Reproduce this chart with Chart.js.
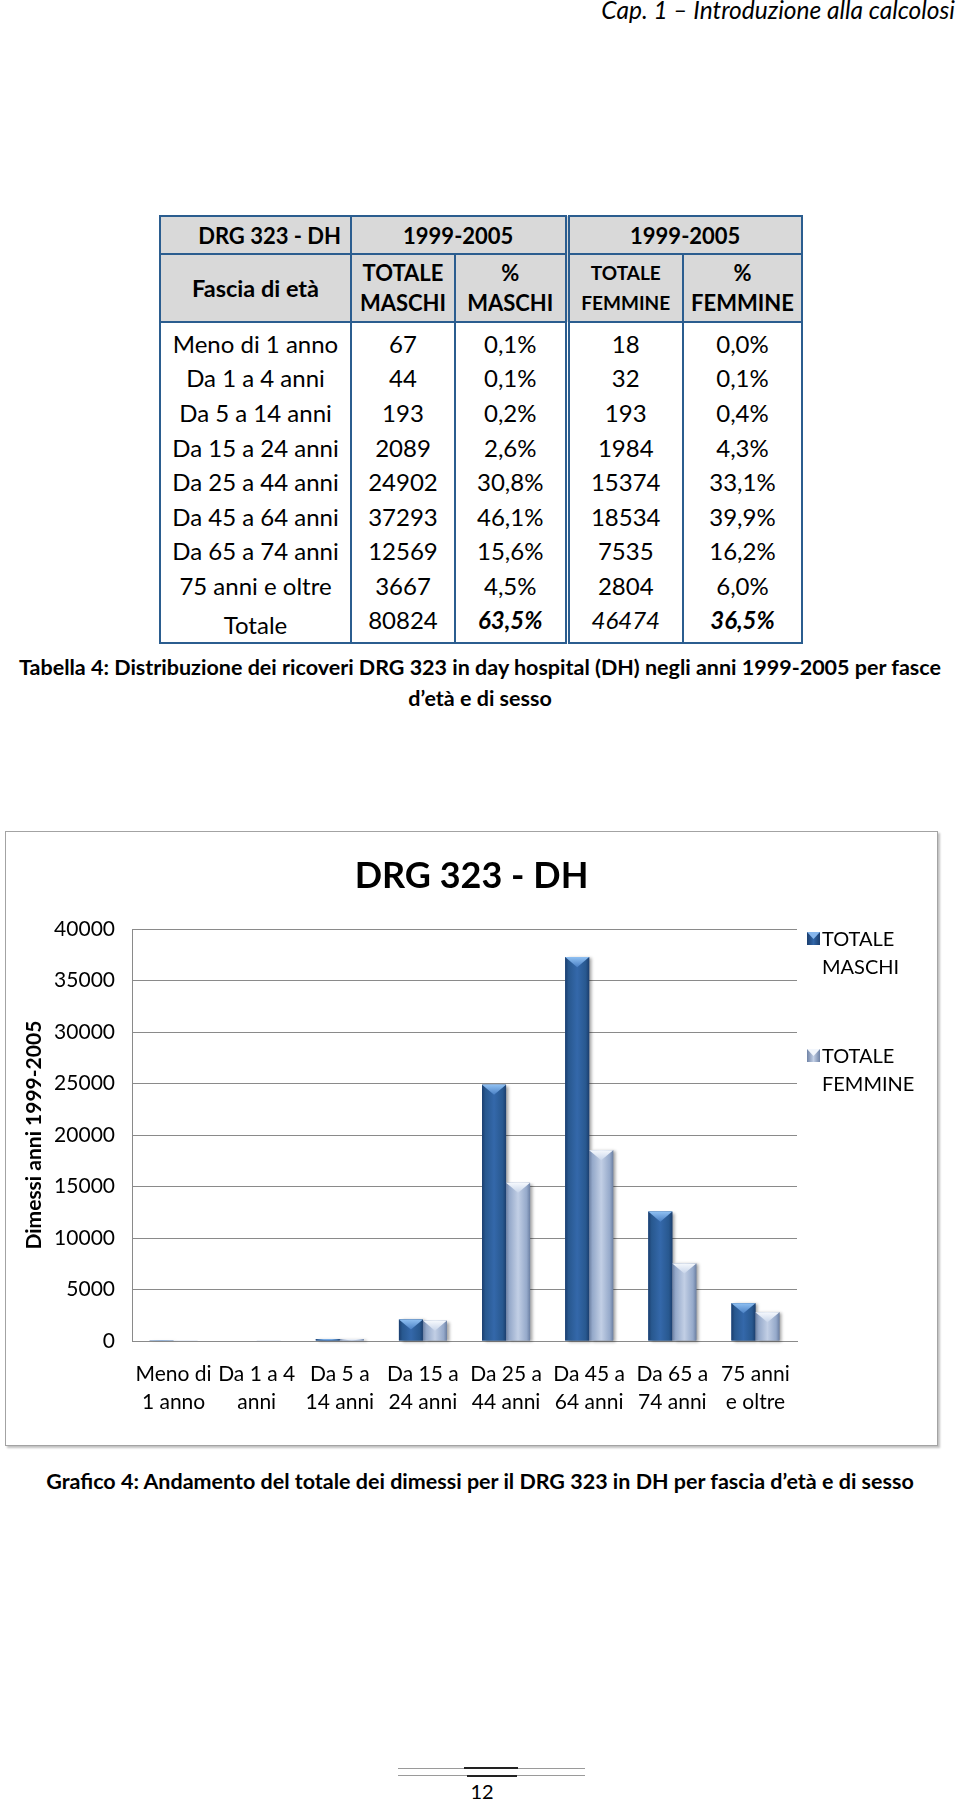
<!DOCTYPE html>
<html lang="it">
<head>
<meta charset="utf-8">
<title>DRG 323 - DH</title>
<script src="https://cdn.jsdelivr.net/npm/chart.js@4.4.1/dist/chart.umd.min.js"></script>
<style>
  html, body { margin: 0; padding: 0; background: #fff; }
  body { width: 960px; height: 1804px; position: relative; overflow: hidden; font-family: Lato, "Open Sans", sans-serif; color: #000; }
  .intestazione { position: absolute; right: 5px; top: -6px; font-size: 24.5px; font-style: italic; line-height: 32px; }
  table.dati { position: absolute; left: 159px; top: 215px; border-collapse: collapse; font-size: 24px; table-layout: fixed; }
  table.dati td { border-left: 2px solid #2b5d8f; border-right: 2px solid #2b5d8f; padding: 0; text-align: center; vertical-align: middle; white-space: nowrap; }
  table.dati td.dbl { border-left: 5px double #2b5d8f; }
  table.dati tr.h1 td, table.dati tr.h2 td { background: #d9d9d9; font-weight: bold; font-size: 22px; border-top: 2px solid #2b5d8f; border-bottom: 2px solid #2b5d8f; }
  table.dati tr.h1 { height: 38px; }
  table.dati tr.h1 td.drg { text-align: right; padding-right: 9px; }
  table.dati tr.h2 { height: 68px; }
  table.dati tr.h2 td { line-height: 30px; }
  table.dati tr.h2 td.fascia { font-size: 23.5px; }
  table.dati tr.h2 td.small { font-size: 19px; }
  table.dati tr.spazio { height: 4px; }
  table.dati tr.riga { height: 34.6px; }
  table.dati tr.tot { height: 40px; }
  table.dati tr.tot td { vertical-align: top; padding-top: 2px; border-bottom: 2px solid #2b5d8f; }
  table.dati tr.tot td.lab { vertical-align: bottom; padding-bottom: 3px; padding-top: 0; }
  .bi { font-weight: bold; font-style: italic; }
  .it { font-style: italic; }
  .didascalia { position: absolute; left: 0; width: 960px; text-align: center; font-weight: bold; font-size: 21.5px; line-height: 31px; white-space: nowrap; }
  .box { position: absolute; left: 5px; top: 831px; width: 931px; height: 613px; border: 1px solid #a3a3a3; box-shadow: 2px 2px 2px rgba(0,0,0,0.25); }
  .box canvas { position: absolute; left: 0; top: 0; }
  .leg { position: absolute; left: 822px; font-size: 20px; line-height: 28px; }
  .leg .mk { position: absolute; left: -15px; top: 8px; width: 13px; height: 13px; overflow: hidden; }
  .leg .mk i { position: absolute; left: 0; top: 0; width: 13px; height: 7px; clip-path: polygon(0 0, 100% 0, 50% 100%); }
  .mk.m { background: linear-gradient(90deg, #1b3e6e, #3166a8 50%, #1b3e6e); }
  .mk.m i { background: #86b6ec; }
  .mk.f { background: linear-gradient(90deg, #6f83a6, #c3d0e6 50%, #6f83a6); }
  .mk.f i { background: #f2f6fc; }
  .num { position: absolute; left: 460px; width: 44px; top: 1777px; text-align: center; font-size: 20px; line-height: 28px; }
</style>
</head>
<body>
<div class="intestazione">Cap. 1 – Introduzione alla calcolosi</div>

<table class="dati">
  <colgroup><col style="width:191px"><col style="width:104px"><col style="width:112px"><col style="width:116px"><col style="width:119px"></colgroup>
  <tbody id="corpo-tabella">
    <tr class="h1"><td class="drg">DRG 323 - DH</td><td colspan="2">1999-2005</td><td colspan="2" class="dbl">1999-2005</td></tr>
    <tr class="h2"><td class="fascia">Fascia di età</td><td>TOTALE<br>MASCHI</td><td>%<br>MASCHI</td><td class="dbl small">TOTALE<br>FEMMINE</td><td>%<br>FEMMINE</td></tr>
    <tr class="spazio"><td></td><td></td><td></td><td class="dbl"></td><td></td></tr>
  </tbody>
</table>

<div class="didascalia" style="top:652px">Tabella 4: Distribuzione dei ricoveri DRG 323 in day hospital (DH) negli anni 1999-2005 per fasce<br>d’età e di sesso</div>

<div class="box">
  <canvas id="grafico" width="931" height="613"></canvas>
</div>
<div class="leg" style="top:924px"><span class="mk m"><i></i></span>TOTALE<br>MASCHI</div>
<div class="leg" style="top:1041px"><span class="mk f"><i></i></span>TOTALE<br>FEMMINE</div>

<div class="didascalia" style="top:1466px">Grafico 4: Andamento del totale dei dimessi per il DRG 323 in DH per fascia d’età e di sesso</div>

<div style="position:absolute;left:398px;top:1768px;width:187px;height:1px;background:#9a9a9a"></div>
<div style="position:absolute;left:464px;top:1767px;width:54px;height:2px;background:#222"></div>
<div style="position:absolute;left:398px;top:1775px;width:187px;height:1px;background:#9a9a9a"></div>
<div style="position:absolute;left:467px;top:1775px;width:50px;height:2px;background:#222"></div>
<div class="num">12</div>

<script>
const fasceEta = ['Meno di 1 anno', 'Da 1 a 4 anni', 'Da 5 a 14 anni', 'Da 15 a 24 anni', 'Da 25 a 44 anni', 'Da 45 a 64 anni', 'Da 65 a 74 anni', '75 anni e oltre'];
const etichetteAsse = [['Meno di', '1 anno'], ['Da 1 a 4', 'anni'], ['Da 5 a', '14 anni'], ['Da 15 a', '24 anni'], ['Da 25 a', '44 anni'], ['Da 45 a', '64 anni'], ['Da 65 a', '74 anni'], ['75 anni', 'e oltre']];
const totaleMaschi = [67, 44, 193, 2089, 24902, 37293, 12569, 3667];
const percMaschi = ['0,1%', '0,1%', '0,2%', '2,6%', '30,8%', '46,1%', '15,6%', '4,5%'];
const totaleFemmine = [18, 32, 193, 1984, 15374, 18534, 7535, 2804];
const percFemmine = ['0,0%', '0,1%', '0,4%', '4,3%', '33,1%', '39,9%', '16,2%', '6,0%'];
const sommaMaschi = 80824;
const sommaPercMaschi = '63,5%';
const sommaFemmine = 46474;
const sommaPercFemmine = '36,5%';
const tickY = { min: 0, max: 40000, step: 5000 };

// righe della tabella
const corpo = document.getElementById('corpo-tabella');
fasceEta.forEach((fascia, i) => {
    const tr = document.createElement('tr');
    tr.className = 'riga';
    tr.innerHTML = `
        <td>${fascia}</td>
        <td>${totaleMaschi[i]}</td>
        <td>${percMaschi[i]}</td>
        <td class="dbl">${totaleFemmine[i]}</td>
        <td>${percFemmine[i]}</td>`;
    corpo.appendChild(tr);
});
const trTot = document.createElement('tr');
trTot.className = 'tot';
trTot.innerHTML = `
    <td class="lab">Totale</td>
    <td>${sommaMaschi}</td>
    <td class="bi">${sommaPercMaschi}</td>
    <td class="dbl it">${sommaFemmine}</td>
    <td class="bi">${sommaPercFemmine}</td>`;
corpo.appendChild(trTot);

// colori "bevel" stile Excel 2007
const palette = [
    { edge: '#1b3e6e', side: '#28588f', mid: '#3468aa', top: '#8fc0f2', tip: '#4a80c4' },
    { edge: '#6c80a3', side: '#95a9ca', mid: '#c2cfe5', top: '#f6f9fd', tip: '#c8d5ea' }
];

const bevelPlugin = {
    id: 'bevel',
    afterDatasetsDraw(chart) {
        const c = chart.ctx;
        chart.data.datasets.forEach((ds, i) => {
            const meta = chart.getDatasetMeta(i);
            const p = palette[i];
            meta.data.forEach(bar => {
                const { x, y, base, width } = bar.getProps(['x', 'y', 'base', 'width'], true);
                const l = x - width / 2, r = x + width / 2, h = base - y;
                if (h <= 0) return;
                c.save();
                c.shadowColor = 'rgba(0,0,0,0.35)';
                c.shadowOffsetX = 3;
                c.shadowOffsetY = 1;
                c.shadowBlur = 3;
                const g = c.createLinearGradient(l, 0, r, 0);
                g.addColorStop(0, p.edge);
                g.addColorStop(0.14, p.side);
                g.addColorStop(0.5, p.mid);
                g.addColorStop(0.86, p.side);
                g.addColorStop(1, p.edge);
                c.fillStyle = g;
                c.fillRect(l, y, width, h);
                c.restore();
                const th = Math.min(h, width * 0.42);
                const tg = c.createLinearGradient(0, y, 0, y + th);
                tg.addColorStop(0, p.top);
                tg.addColorStop(1, p.tip);
                c.beginPath();
                c.moveTo(l, y);
                c.lineTo(r, y);
                c.lineTo(x, y + th);
                c.closePath();
                c.fillStyle = tg;
                c.fill();
            });
        });
    }
};

const ctx = document.getElementById('grafico').getContext('2d');
new Chart(ctx, {
    type: 'bar',
    data: {
        labels: etichetteAsse,
        datasets: [
            { label: 'TOTALE MASCHI', data: totaleMaschi, backgroundColor: '#3166a8', categoryPercentage: 0.578, barPercentage: 1 },
            { label: 'TOTALE FEMMINE', data: totaleFemmine, backgroundColor: '#b4c3de', categoryPercentage: 0.578, barPercentage: 1 }
        ]
    },
    options: {
        responsive: false,
        animation: false,
        layout: { padding: 0 },
        plugins: {
            legend: { display: false },
            tooltip: { enabled: false },
            title: {
                display: true,
                text: 'DRG 323 - DH',
                color: '#000',
                font: { family: 'Lato', size: 36, weight: 'bold' },
                padding: { top: 23, bottom: 31 }
            }
        },
        scales: {
            x: {
                grid: { display: false, drawTicks: false },
                border: { display: true, color: '#8a8a8a' },
                ticks: {
                    color: '#000',
                    padding: 19,
                    maxRotation: 0,
                    autoSkip: false,
                    font: { family: 'Lato', size: 21, lineHeight: 1.333 }
                },
                afterFit(scale) { scale.height = 104; }
            },
            y: {
                min: tickY.min,
                max: tickY.max,
                grid: { color: '#8a8a8a', drawTicks: false },
                border: { display: true, color: '#8a8a8a' },
                ticks: {
                    stepSize: tickY.step,
                    color: '#000',
                    padding: 17,
                    font: { family: 'Lato', size: 21 },
                    callback: value => String(value)
                },
                title: {
                    display: true,
                    text: 'Dimessi anni 1999-2005',
                    color: '#000',
                    font: { family: 'Lato', size: 21, weight: 'bold' },
                    padding: { top: 16, bottom: 0 }
                },
                afterFit(scale) { scale.width = 126; }
            },
            // spazio a destra per la legenda (così il titolo resta centrato sulla cornice)
            spazioLegenda: {
                type: 'linear',
                position: 'right',
                display: true,
                grid: { display: false, drawTicks: false },
                border: { display: false },
                ticks: { display: false },
                afterFit(scale) { scale.width = 140; }
            }
        }
    },
    plugins: [bevelPlugin]
});
</script>
</body>
</html>
